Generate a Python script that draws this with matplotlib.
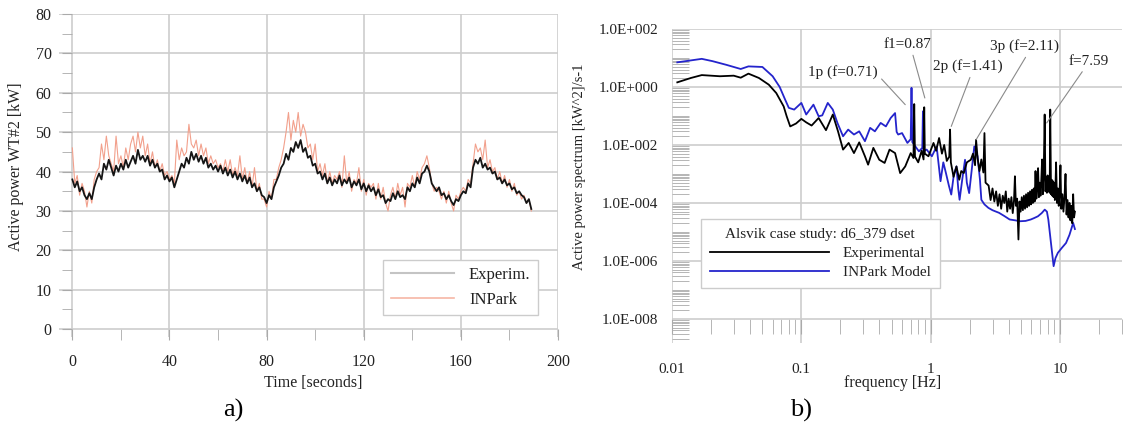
import numpy as np
import matplotlib
matplotlib.use('Agg')
from matplotlib import pyplot as plt
from matplotlib.ticker import MultipleLocator, LogLocator, FuncFormatter, NullFormatter
from matplotlib.lines import Line2D

plt.rcParams['font.family'] = ['Liberation Serif', 'DejaVu Serif']

# a) active power of WT#2, one reading per second (kW)
time_s = np.arange(0, 190)
power_exp = [
    38, 36, 37.5, 35, 36, 34, 33, 34.5, 33, 36,
    38, 39.5, 38, 42, 40.5, 43, 41, 39, 41.5, 40,
    42, 40.5, 43, 41, 42.5, 44, 42, 45.5, 43, 44,
    42.5, 44, 41.5, 43, 41, 42, 40, 40.5, 38, 39,
    37.5, 38.5, 36, 38, 40, 42, 41, 43.5, 42, 45,
    43, 44.5, 42.5, 44, 42, 43.5, 41, 42, 40.5, 41.5,
    40, 41.5, 39.5, 41, 39, 40.5, 38.5, 40, 38, 39.5,
    37.5, 39, 37, 38.5, 36, 37, 35, 36, 34, 33.5,
    32, 34, 33, 36, 37.5, 39, 41, 42, 44.5, 43,
    46, 45, 47.5, 46, 48, 45, 46, 43.5, 44, 41.5,
    42, 39.5, 40, 38, 39.5, 37, 38.5, 36.5, 38, 37,
    39, 36.5, 38, 37, 38.5, 36, 37.5, 36.5, 38, 35.5,
    37, 35, 36.5, 35, 36, 34, 35.5, 33.5, 34, 32,
    33, 32.5, 34.5, 33, 35, 33.5, 34, 33, 36, 35,
    37, 36, 38.5, 37, 39.5, 40, 41.5, 40, 37, 36,
    35, 36, 34, 34.5, 33, 34, 32.5, 31.5, 33, 32.5,
    34, 35, 34.5, 37, 36, 41, 43, 42, 43.5, 41,
    42, 40.5, 41, 39.5, 40, 38, 38.5, 37, 38, 36.5,
    37, 35.5, 36, 34.5, 35, 34, 33.5, 32, 33, 30.5,
]
power_inpark = [
    46, 37, 39, 34, 37, 35, 31, 35, 32, 38,
    40, 41, 47, 43, 49, 44, 42, 40, 49, 42,
    44, 41, 46, 43, 47, 49, 45, 50, 46, 49,
    44, 47, 42, 45, 41, 43, 40, 42, 39, 40,
    38, 39, 37, 48, 43, 46, 44, 45, 52, 47,
    46, 48, 44, 47, 44, 46, 42, 44, 42, 43,
    41, 42, 40, 43, 40, 43, 39, 41, 39, 44,
    38, 41, 37, 40, 36, 41, 35, 37, 33, 33,
    31, 35, 33, 38, 38, 41, 43, 46, 50, 55,
    48, 53, 50, 55, 49, 52, 50, 46, 47, 43,
    47, 40, 42, 39, 42, 37, 40, 37, 39, 38,
    40, 36, 44, 37, 40, 35, 38, 37, 41, 35,
    38, 34, 37, 36, 37, 33, 37, 33, 36, 32,
    30, 34, 36, 33, 37, 34, 36, 31, 37, 36,
    39, 36, 40, 38, 41, 42, 44, 41, 37, 35,
    36, 35, 33, 35, 32, 35, 32, 30, 34, 33,
    35, 36, 35, 38, 37, 42, 47, 45, 46, 43,
    48, 41, 43, 40, 41, 38, 40, 37, 39, 36,
    38, 35, 37, 34, 35, 33, 34, 32, 33, 30,
]

# b) power spectrum, frequency in Hz and log10 of PSD
freq_exp = [
    0.011, 0.014, 0.017, 0.0235, 0.030, 0.034, 0.039, 0.047, 0.056, 0.064,
    0.073, 0.077, 0.082, 0.091, 0.100, 0.109, 0.120, 0.136, 0.155, 0.175,
    0.192, 0.210, 0.232, 0.255, 0.280, 0.310, 0.328, 0.360, 0.400, 0.440,
    0.480, 0.530, 0.580, 0.635, 0.700, 0.735, 0.745, 0.755, 0.800, 0.850,
    0.880, 0.890, 0.900, 0.960, 1.05, 1.10, 1.16, 1.22, 1.27, 1.33,
    1.39, 1.41, 1.43, 1.50, 1.58, 1.66, 1.72, 1.80, 1.90, 2.04,
    2.12, 2.20, 2.24, 2.30, 2.38, 2.46, 2.55, 2.60, 2.65,
    2.80, 2.90, 3.00, 3.10, 3.20, 3.30, 3.40, 3.50, 3.60, 3.70,
    3.80, 3.90, 4.00, 4.10, 4.20, 4.30, 4.40, 4.47, 4.55, 4.65,
    4.76, 4.85, 4.95, 5.05, 5.15, 5.25, 5.35, 5.45, 5.55, 5.65,
    5.75, 5.85, 5.95, 6.05, 6.15, 6.25, 6.35, 6.45, 6.55, 6.65,
    6.75, 6.85, 6.95, 7.05, 7.15, 7.25, 7.35, 7.45, 7.59, 7.70,
    7.80, 7.90, 8.00, 8.10, 8.20, 8.30, 8.38, 8.50, 8.60, 8.70,
    8.80, 8.90, 9.00, 9.10, 9.20, 9.30, 9.45, 9.60, 9.75, 9.90,
    10.05, 10.2, 10.4, 10.6, 10.8, 11.0, 11.2, 11.4, 11.6, 11.8,
    12.0, 12.2, 12.4, 12.6, 12.8, 13.0,
]
logpsd_exp = [
    0.16, 0.31, 0.41, 0.37, 0.39, 0.32, 0.46, 0.31, 0.08, -0.21,
    -0.67, -1.01, -1.36, -1.26, -1.10, -1.22, -1.33, -1.07, -1.49, -0.95,
    -1.53, -2.16, -1.93, -2.28, -1.91, -2.39, -2.68, -2.10, -2.51, -2.62,
    -2.16, -2.28, -2.97, -2.74, -2.28, -2.45, -0.59, -2.40, -2.60, -2.20,
    -2.50, -0.70, -2.30, -2.39, -1.93, -2.20, -1.76, -2.30, -2.00, -2.55,
    -2.40, -1.47, -2.60, -3.10, -2.74, -3.20, -2.90, -2.97, -2.60, -2.51,
    -2.30, -2.70, -1.82, -2.45, -2.90, -2.50, -2.95, -1.59, -3.30,
    -3.40, -3.90, -3.50, -3.95, -3.60, -4.10, -3.70, -4.20, -3.75, -4.00,
    -3.60, -4.30, -3.85, -4.20, -3.80, -4.35, -3.90, -3.08, -4.10, -3.85,
    -5.26, -3.95, -4.30, -3.80, -4.25, -3.75, -4.20, -3.70, -4.15, -3.65,
    -4.10, -3.60, -4.05, -3.55, -4.00, -3.50, -3.95, -2.90, -3.85, -3.40,
    -2.80, -3.80, -3.30, -3.75, -3.20, -2.50, -3.70, -3.15, -0.95, -3.60,
    -3.10, -3.65, -3.05, -3.60, -3.10, -3.65, -0.78, -3.70, -3.20, -3.75,
    -3.25, -3.80, -3.30, -3.90, -3.40, -2.60, -4.00, -3.50, -4.10, -3.60,
    -2.70, -4.20, -3.70, -4.30, -3.80, -3.00, -4.40, -3.90, -4.50, -4.00,
    -4.60, -4.10, -4.70, -3.70, -4.50, -4.30,
]
freq_inpark = [
    0.011, 0.017, 0.0206, 0.0265, 0.034, 0.039, 0.050, 0.060, 0.068, 0.075,
    0.080, 0.088, 0.100, 0.109, 0.124, 0.136, 0.145, 0.160, 0.175, 0.190,
    0.210, 0.230, 0.255, 0.280, 0.310, 0.340, 0.370, 0.410, 0.450, 0.490,
    0.530, 0.545, 0.560, 0.600, 0.660, 0.700, 0.710, 0.720, 0.760, 0.810,
    0.860, 0.870, 0.880, 0.930, 1.02, 1.11, 1.19, 1.25, 1.31, 1.38,
    1.44, 1.51, 1.58, 1.63, 1.67, 1.75, 1.84, 1.90, 1.98, 2.08,
    2.17, 2.30, 2.40, 2.46, 2.60, 2.79, 3.00, 3.37, 3.70, 4.07,
    4.50, 4.90, 5.40, 5.93, 6.30, 6.73, 7.20, 7.60, 7.90, 8.10,
    8.50, 8.90, 9.20, 9.60, 10.3, 11.1, 11.8, 12.6, 13.0,
]
logpsd_inpark = [
    0.85, 0.97, 0.89, 0.76, 0.62, 0.71, 0.69, 0.37, 0.00, -0.44,
    -0.72, -0.78, -0.55, -0.95, -0.61, -1.01, -0.98, -0.55, -0.78, -1.24,
    -1.70, -1.47, -1.64, -1.53, -1.87, -1.41, -1.53, -1.24, -1.36, -1.07,
    -0.90, -1.55, -1.64, -1.59, -1.93, -1.80, -0.03, -1.90, -2.05, -2.22,
    -2.10, -0.84, -2.20, -2.16, -2.39, -2.05, -3.25, -2.60, -2.97, -3.40,
    -3.71, -3.00, -2.74, -3.50, -3.89, -3.20, -2.51, -3.30, -3.66, -2.80,
    -2.05, -2.39, -3.20, -3.89, -4.05, -4.17, -4.25, -4.34, -4.45, -4.57,
    -4.60, -4.63, -4.62, -4.57, -4.52, -4.46, -4.35, -4.23, -4.30, -4.57,
    -5.40, -6.18, -5.90, -5.72, -5.55, -5.38, -5.10, -4.69, -4.90,
]
peak_labels = ['1p (f=0.71)', 'f1=0.87', '2p (f=1.41)', '3p (f=2.11)', 'f=7.59']

fig = plt.figure(figsize=(11.28, 4.30), dpi=100)
grid_col = '#cdcdcd'
tick_col = '#aaaaaa'
text_col = '#222222'

# ---- left panel: time series
ax1 = fig.add_axes([0.0523, 0.2163, 0.4424, 0.7511])
ax1.plot(time_s, power_inpark, color='#f2a08c', lw=0.8)
ax1.plot(time_s, power_exp, color='#151515', lw=1.3)
ax1.set_xlim(-5.5, 200)
ax1.set_ylim(-2, 80)
ax1.xaxis.set_major_locator(MultipleLocator(40))
ax1.xaxis.set_minor_locator(MultipleLocator(20))
ax1.yaxis.set_major_locator(MultipleLocator(10))
ax1.yaxis.set_minor_locator(MultipleLocator(5))
ax1.grid(True, which='major', color=grid_col, lw=1.2)
ax1.spines['left'].set_position(('data', 0))
ax1.spines['bottom'].set_position(('data', 0))
for s in ax1.spines.values():
    s.set_visible(False)
ax1.tick_params(which='both', direction='out', color=tick_col, labelcolor=text_col, labelsize=11.5)
ax1.tick_params(axis='x', which='both', length=8, pad=10)
ax1.tick_params(axis='y', which='both', length=7, pad=8)

handles1 = [Line2D([], [], color='#c4c4c4', lw=1.5), Line2D([], [], color='#f6b6a6', lw=1.2)]
ax1.legend(handles1, ['Experim.', 'INPark'], loc='lower right', bbox_to_anchor=(0.96, 0.068),
           borderaxespad=0, fancybox=False, edgecolor='#cccccc', framealpha=1,
           fontsize=12, handlelength=3.8, handletextpad=0.9, borderpad=0.45,
           labelspacing=0.5, labelcolor=text_col)

fig.text(16 / 1128, 1 - 167 / 430, 'Active power WT#2 [kW]', rotation=90,
         ha='center', va='center', fontsize=11.5, color=text_col)
fig.text(313 / 1128, 1 - 383 / 430, 'Time [seconds]', ha='center', va='center',
         fontsize=11.5, color=text_col)
fig.text(233 / 1128, 1 - 410 / 430, 'a)', ha='center', va='center', fontsize=19)

# ---- right panel: spectrum
ax2 = fig.add_axes([0.5957, 0.2023, 0.3989, 0.7303])
ax2.plot(freq_inpark, 10 ** np.array(logpsd_inpark), color='#2424cc', lw=1.3, label='INPark Model')
ax2.plot(freq_exp, 10 ** np.array(logpsd_exp), color='black', lw=1.3, label='Experimental')
ax2.set_xscale('log')
ax2.set_yscale('log')
ax2.set_xlim(0.01, 30)
ax2.set_ylim(10 ** -8.83, 100)

ax2.yaxis.set_major_locator(LogLocator(base=100.0, numticks=20))
ax2.yaxis.set_minor_locator(LogLocator(base=10.0, subs=np.arange(1, 10), numticks=100))
ax2.yaxis.set_major_formatter(FuncFormatter(
    lambda v, pos: '1.0E{:+04d}'.format(int(round(np.log10(v))))))
ax2.yaxis.set_minor_formatter(NullFormatter())
ax2.xaxis.set_major_locator(LogLocator(base=10.0, numticks=20))
ax2.xaxis.set_minor_locator(LogLocator(base=10.0, subs=np.arange(2, 10), numticks=100))
ax2.xaxis.set_major_formatter(FuncFormatter(lambda v, pos: '{:g}'.format(v)))
ax2.xaxis.set_minor_formatter(NullFormatter())
ax2.grid(True, which='major', color=grid_col, lw=1.2)
ax2.spines['bottom'].set_position(('data', 1e-8))
for s in ax2.spines.values():
    s.set_visible(False)
ax2.tick_params(which='both', color=tick_col, labelcolor=text_col, labelsize=11)
ax2.tick_params(axis='x', which='both', direction='out', length=11, pad=21)
ax2.tick_params(axis='y', which='major', direction='in', length=0, pad=10)
ax2.tick_params(axis='y', which='minor', direction='in', length=12)

h, l = ax2.get_legend_handles_labels()
leg = ax2.legend(h[::-1], l[::-1], title='Alsvik case study: d6_379 dset',
                 loc='lower left', bbox_to_anchor=(0.064, 0.175), borderaxespad=0,
                 fancybox=False, edgecolor='#cccccc', framealpha=1,
                 fontsize=11, title_fontsize=11, handlelength=7.8, handletextpad=0.9,
                 borderpad=0.6, labelspacing=0.35, labelcolor=text_col)
leg.get_title().set_color(text_col)

# peak annotations: (text position, line tip, start point on text box)
ann = [
    ((0.21, 10 ** 0.51), (0.635, 10 ** -0.61), (1.0, 0.3)),
    ((0.656, 10 ** 1.46), (0.90, 10 ** -0.38), (0.6, 0.0)),
    ((1.94, 10 ** 0.71), (1.44, 10 ** -1.36), (0.55, 0.0)),
    ((5.3, 10 ** 1.40), (2.24, 10 ** -1.82), (0.55, 0.0)),
    ((16.7, 10 ** 0.885), (7.87, 10 ** -1.24), (0.4, 0.0)),
]
for label, (txy, tip, rel) in zip(peak_labels, ann):
    ax2.annotate(label, xy=tip, xytext=txy, ha='center', va='center', fontsize=11,
                 color=text_col,
                 arrowprops=dict(arrowstyle='-', color='#8a8a8a', lw=0.8,
                                 shrinkA=1, shrinkB=0, relpos=rel))

fig.text(580 / 1128, 1 - 167 / 430, 'Active power spectrum [kW^2]/s-1', rotation=90,
         ha='center', va='center', fontsize=10.5, color=text_col)
fig.text(893 / 1128, 1 - 383 / 430, 'frequency [Hz]', ha='center', va='center',
         fontsize=11.5, color=text_col)
fig.text(801 / 1128, 1 - 410 / 430, 'b)', ha='center', va='center', fontsize=19)

fig.savefig('out.png', dpi=100)
